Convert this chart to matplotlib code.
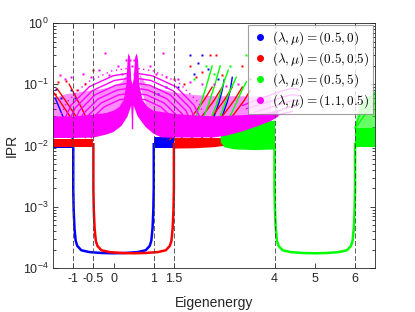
import matplotlib
matplotlib.use('Agg')
import matplotlib.pyplot as plt
from matplotlib.ticker import FixedLocator, LogLocator, NullFormatter

plt.rcParams['font.family'] = ['Liberation Sans', 'DejaVu Sans']
plt.rcParams['mathtext.fontset'] = 'cm'
plt.rcParams['axes.unicode_minus'] = False

# ---------------- data ----------------
labels = [r'$(\lambda,\mu)=(0.5,0)$', r'$(\lambda,\mu)=(0.5,0.5)$',
          r'$(\lambda,\mu)=(0.5,5)$', r'$(\lambda,\mu)=(1.1,0.5)$']
colors = ['#0000ff', '#ff0000', '#00ff00', '#ff00ff']

mobility_edges = [-1, -0.5, 1, 1.5, 4, 6]
xticks = [-1, -0.5, 0, 1, 1.5, 4, 5, 6]
xtick_labels = ['-1', '-0.5', '0', '1', '1.5', '4', '5', '6']
yticks = [1e-4, 1e-3, 1e-2, 1e-1, 1e0]
ytick_labels = [r'$\mathregular{10^{-4}}$', r'$\mathregular{10^{-3}}$',
                r'$\mathregular{10^{-2}}$', r'$\mathregular{10^{-1}}$',
                r'$\mathregular{10^{0}}$']

# extended states (U-shaped curves)
u_ipr = [0.0105, 0.002, 0.0009, 0.00045, 0.00028, 0.00023, 0.000195, 0.000182,
         0.000176, 0.000174, 0.000176, 0.000182, 0.000195, 0.00023, 0.00028,
         0.00045, 0.0009, 0.002, 0.0105]
blue_ext_E = [-1.0, -1.0, -0.99, -0.97, -0.94, -0.9, -0.8, -0.6, -0.3, 0.0, 0.3,
              0.6, 0.8, 0.9, 0.94, 0.97, 0.99, 1.0, 1.0]
red_ext_E = [-0.5, -0.5, -0.49, -0.47, -0.44, -0.4, -0.3, -0.1, 0.2, 0.5, 0.8,
             1.1, 1.3, 1.4, 1.44, 1.47, 1.49, 1.5, 1.5]
green_ext_E = [4.0, 4.0, 4.01, 4.03, 4.06, 4.1, 4.2, 4.4, 4.7, 5.0, 5.3, 5.6,
               5.8, 5.9, 5.94, 5.97, 5.99, 6.0, 6.0]

# localized bands (dense regions): E, lower IPR, upper IPR
blue_band_L_E = [-1.5, -1.0]
blue_band_L_lo = [0.0092, 0.0092]
blue_band_L_hi = [0.0125, 0.0125]
blue_band_R_E = [1.0, 1.5]
blue_band_R_lo = [0.0092, 0.0092]
blue_band_R_hi = [0.014, 0.014]

red_band_L_E = [-1.5, -0.5]
red_band_L_lo = [0.0094, 0.0094]
red_band_L_hi = [0.013, 0.013]
red_band_R_E = [1.5, 2.0, 2.5, 2.8, 2.9]
red_band_R_lo = [0.0091, 0.0092, 0.0096, 0.0102, 0.011]
red_band_R_hi = [0.0135, 0.0135, 0.0135, 0.0135, 0.0125]

green_band_M_E = [2.65, 2.75, 3.0, 3.5, 4.0]
green_band_M_lo = [0.0115, 0.0095, 0.0088, 0.0086, 0.0088]
green_band_M_hi = [0.016, 0.02, 0.022, 0.024, 0.026]
green_band_R_E = [6.0, 6.5]
green_band_R_lo = [0.0093, 0.0093]
green_band_R_hi = [0.019, 0.019]
green_arczone_R_E = [6.0, 6.1, 6.25, 6.5]
green_arczone_R_lo = [0.019, 0.019, 0.019, 0.019]
green_arczone_R_hi = [0.025, 0.045, 0.06, 0.075]

# magenta dense region outline (top then bottom)
mag_top_E = [-1.5, -1.0, -0.5, -0.2, 0.0, 0.15, 0.25, 0.32, 0.35, 0.37, 0.41,
             0.44, 0.47, 0.50, 0.54, 0.58, 0.61, 0.64, 0.72, 0.85, 1.0, 1.5,
             2.0, 2.5, 3.0, 3.5, 3.9, 4.1]
mag_top_ipr = [0.03, 0.03, 0.032, 0.034, 0.037, 0.043, 0.055, 0.1, 0.25, 0.32,
               0.28, 0.12, 0.1, 0.12, 0.28, 0.32, 0.25, 0.1, 0.055, 0.043,
               0.037, 0.033, 0.031, 0.03, 0.031, 0.032, 0.035, 0.038]
mag_bot_E = [-1.5, -1.0, -0.5, -0.2, 0.0, 0.2, 0.35, 0.44, 0.47, 0.50, 0.6,
             0.8, 1.0, 1.2, 1.5, 2.0, 2.5, 2.8, 3.2, 3.6, 3.9, 4.1]
mag_bot_ipr = [0.0133, 0.0133, 0.0135, 0.015, 0.0166, 0.021, 0.03, 0.045, 0.02,
               0.045, 0.03, 0.02, 0.0155, 0.0135, 0.0135, 0.0135, 0.0136, 0.0145,
               0.017, 0.021, 0.025, 0.03]
# magenta arc zone (striped look) envelopes
mag_arc_L_E = [-1.5, -1.2, -0.9, -0.6, -0.3, 0.0, 0.2, 0.32]
mag_arc_L_hi = [0.06, 0.07, 0.075, 0.08, 0.085, 0.095, 0.11, 0.15]
mag_arc_L_lo = [0.03, 0.03, 0.031, 0.032, 0.034, 0.037, 0.045, 0.1]
mag_arc_R_E = [0.64, 0.8, 1.0, 1.5, 2.0, 2.5, 3.0, 3.5, 3.9]
mag_arc_R_hi = [0.15, 0.1, 0.09, 0.075, 0.068, 0.065, 0.065, 0.065, 0.065]
mag_arc_R_lo = [0.1, 0.047, 0.037, 0.033, 0.031, 0.03, 0.031, 0.032, 0.035]

# concentric magenta arcs around the central peak (left and right halves)
mag_arc_ipr = [
    [0.0148, 0.0268, 0.0425, 0.056, 0.0596],
    [0.0155, 0.0299, 0.0494, 0.067, 0.072],
    [0.0163, 0.0332, 0.0577, 0.0806, 0.0869],
    [0.0171, 0.037, 0.0673, 0.0965, 0.105],
    [0.018, 0.0413, 0.0785, 0.1156, 0.1265],
    [0.0189, 0.0458, 0.0916, 0.138, 0.153],
]
mag_arc_left_E = [
    [-0.73, -0.55, -0.24, 0.15, 0.43],
    [-0.85, -0.65, -0.31, 0.12, 0.43],
    [-0.97, -0.75, -0.38, 0.09, 0.42],
    [-1.09, -0.85, -0.46, 0.05, 0.42],
    [-1.21, -0.95, -0.53, 0.02, 0.41],
    [-1.33, -1.05, -0.60, -0.01, 0.41],
]
mag_arc_right_E = [
    [1.675, 1.495, 1.185, 0.795, 0.515],
    [1.80, 1.60, 1.26, 0.83, 0.52],
    [1.92, 1.70, 1.33, 0.86, 0.53],
    [2.04, 1.80, 1.41, 0.90, 0.53],
    [2.16, 1.90, 1.48, 0.93, 0.54],
    [2.28, 2.00, 1.55, 0.96, 0.54],
]
# sparse outer arc (drawn dotted)
mag_outer_ipr = [0.0198, 0.0511, 0.107, 0.166, 0.184]
mag_outer_left_E = [-1.45, -1.16, -0.67, -0.04, 0.40]
mag_outer_right_E = [2.395, 2.105, 1.615, 0.985, 0.545]
# magenta arcs ending near E = 4.6
mag_end_arcs = [
    ([3.2, 3.7, 4.1, 4.4, 4.55, 4.62], [0.045, 0.06, 0.075, 0.085, 0.085, 0.08]),
    ([3.3, 3.8, 4.2, 4.45, 4.6], [0.04, 0.05, 0.062, 0.068, 0.065]),
    ([3.5, 3.9, 4.25, 4.5, 4.6], [0.035, 0.042, 0.05, 0.055, 0.053]),
    ([3.7, 4.05, 4.35, 4.55], [0.032, 0.036, 0.042, 0.044]),
    ([3.9, 4.2, 4.45], [0.03, 0.033, 0.036]),
]
red_arcs = [
    ([-0.55, -0.8, -1.0, -1.2, -1.4], [0.0135, 0.022, 0.035, 0.055, 0.085]),
    ([-0.7, -0.95, -1.15, -1.35, -1.5], [0.0135, 0.022, 0.035, 0.055, 0.075]),
    ([-0.5, -0.65, -0.8, -0.95, -1.1], [0.016, 0.026, 0.042, 0.065, 0.1]),
    ([1.40, 1.70, 2.00, 2.25, 2.45], [0.0125, 0.02, 0.033, 0.055, 0.09]),
    ([1.65, 1.95, 2.25, 2.50, 2.70], [0.0125, 0.02, 0.033, 0.055, 0.09]),
    ([1.90, 2.20, 2.50, 2.75, 2.95], [0.0125, 0.02, 0.033, 0.055, 0.09]),
    ([2.15, 2.45, 2.75, 3.00, 3.20], [0.0125, 0.02, 0.033, 0.055, 0.09]),
    ([2.40, 2.70, 3.00, 3.25, 3.40], [0.013, 0.02, 0.033, 0.055, 0.08]),
]
green_arcs = [
    ([1.85, 2.0, 2.15, 2.3, 2.45], [0.016, 0.025, 0.045, 0.09, 0.2]),
    ([2.05, 2.2, 2.35, 2.5, 2.65], [0.016, 0.025, 0.045, 0.09, 0.2]),
    ([2.25, 2.4, 2.55, 2.7, 2.85], [0.016, 0.025, 0.045, 0.09, 0.17]),
    ([2.45, 2.6, 2.75, 2.9, 3.05], [0.016, 0.025, 0.045, 0.08, 0.13]),
    ([2.7, 2.85, 3.0, 3.15, 3.3], [0.018, 0.026, 0.042, 0.07, 0.11]),
    ([6.0, 6.1, 6.2, 6.35, 6.5], [0.02, 0.03, 0.042, 0.058, 0.075]),
    ([6.0, 6.15, 6.3, 6.5], [0.019, 0.026, 0.036, 0.05]),
]
blue_arcs = [
    ([-1.0, -1.15, -1.3, -1.45], [0.012, 0.02, 0.035, 0.06]),
    ([2.55, 2.7, 2.82, 2.9, 2.95], [0.02, 0.03, 0.05, 0.08, 0.13]),
    ([2.35, 2.5, 2.62, 2.7, 2.75], [0.02, 0.03, 0.05, 0.08, 0.12]),
]

mag_dots_E = [-0.22, -1.32, -1.2, -1.05, -0.75, -0.55, -0.35, -0.1, 0.1, 0.2,
              0.3, 1.22, 0.9, 1.05, 1.3, 1.6, 1.9, 2.2, 2.5, 2.8, 3.1, 0.45,
              0.5, 0.42, 0.52]
mag_dots_ipr = [0.32, 0.14, 0.12, 0.13, 0.15, 0.13, 0.17, 0.14, 0.2, 0.15,
                0.25, 0.32, 0.2, 0.15, 0.13, 0.12, 0.11, 0.1, 0.1, 0.095, 0.1,
                0.2, 0.15, 0.25, 0.25]
red_dots_E = [-1.39, -1.17, -0.9, -0.52, -1.45, -0.7, 1.5, 1.75, 2.05, 2.2,
              2.4, 2.55, 2.7, 3.2, 3.4, 1.9]
red_dots_ipr = [0.11, 0.115, 0.08, 0.17, 0.07, 0.1, 0.12, 0.1, 0.13, 0.16,
                0.3, 0.3, 0.14, 0.2, 0.12, 0.2]
blue_dots_E = [-1.42, -1.05, -1.3, -0.95, 1.9, 2.19, 2.1, 2.35, 2.6, 1.3, 1.6,
               2.0, 1.1]
blue_dots_ipr = [0.085, 0.08, 0.06, 0.06, 0.3, 0.3, 0.22, 0.18, 0.12, 0.09,
                 0.09, 0.15, 0.07]
green_dots_E = [2.3, 2.5, 2.9, 3.3, 2.0]
green_dots_ipr = [0.2, 0.15, 0.2, 0.3, 0.12]

# ---------------- drawing ----------------
fig = plt.figure(figsize=(4.15, 3.12), dpi=100)
ax = fig.add_axes([0.128, 0.141, 0.776, 0.785])
ax.set_yscale('log')

cb, cr, cg, cm = colors
ARC_LW = 1.0

# backdrop of the striped magenta arc zone (lowest)
ax.fill_between(mag_arc_L_E, mag_arc_L_lo, mag_arc_L_hi, color=cm, alpha=0.45, lw=0, zorder=1)
ax.fill_between(mag_arc_R_E, mag_arc_R_lo, mag_arc_R_hi, color=cm, alpha=0.45, lw=0, zorder=1)

# blue
for E, lo, hi in [(blue_band_L_E, blue_band_L_lo, blue_band_L_hi),
                  (blue_band_R_E, blue_band_R_lo, blue_band_R_hi)]:
    ax.fill_between(E, lo, hi, color=cb, lw=0, zorder=2)
for E, v in blue_arcs:
    ax.plot(E, v, color=cb, lw=ARC_LW, zorder=2)
ax.plot(blue_ext_E, u_ipr, color=cb, lw=1.8, zorder=2)
ax.plot(blue_dots_E, blue_dots_ipr, ls='none', marker='s', ms=1.5, color=cb, mec='none', zorder=2)

# red
for E, lo, hi in [(red_band_L_E, red_band_L_lo, red_band_L_hi),
                  (red_band_R_E, red_band_R_lo, red_band_R_hi)]:
    ax.fill_between(E, lo, hi, color=cr, lw=0, zorder=3)
for E, v in red_arcs:
    ax.plot(E, v, color=cr, lw=ARC_LW, zorder=3)
ax.plot(red_ext_E, u_ipr, color=cr, lw=1.8, zorder=3)
ax.plot(red_dots_E, red_dots_ipr, ls='none', marker='s', ms=1.5, color=cr, mec='none', zorder=3)

# green
for E, lo, hi in [(green_band_M_E, green_band_M_lo, green_band_M_hi),
                  (green_band_R_E, green_band_R_lo, green_band_R_hi)]:
    ax.fill_between(E, lo, hi, color=cg, lw=0, zorder=3.5)
ax.fill_between(green_arczone_R_E, green_arczone_R_lo, green_arczone_R_hi,
                color=cg, alpha=0.6, lw=0, zorder=3.5)
for E, v in green_arcs:
    ax.plot(E, v, color=cg, lw=ARC_LW, zorder=3.5)
ax.plot(green_ext_E, u_ipr, color=cg, lw=1.8, zorder=3.5)
ax.plot(green_dots_E, green_dots_ipr, ls='none', marker='s', ms=1.5, color=cg, mec='none', zorder=3.5)

# magenta (on top)
ax.fill(mag_top_E + mag_bot_E[::-1], mag_top_ipr + mag_bot_ipr[::-1], color=cm, lw=0, zorder=4)
for Ez, v in zip(mag_arc_left_E, mag_arc_ipr):
    ax.plot(Ez, v, color=cm, lw=ARC_LW, zorder=4)
for Ez, v in zip(mag_arc_right_E, mag_arc_ipr):
    ax.plot(Ez, v, color=cm, lw=ARC_LW, zorder=4)
ax.plot(mag_outer_left_E, mag_outer_ipr, color=cm, lw=1.0, ls=(0, (1, 2.5)), zorder=4)
ax.plot(mag_outer_right_E, mag_outer_ipr, color=cm, lw=1.0, ls=(0, (1, 2.5)), zorder=4)
for E, v in mag_end_arcs:
    ax.plot(E, v, color=cm, lw=ARC_LW, zorder=4)
ax.plot([0.47, 0.47], [0.019, 0.045], color=cm, lw=1.0, zorder=4)
ax.plot(mag_dots_E, mag_dots_ipr, ls='none', marker='s', ms=1.5, color=cm, mec='none', zorder=4)

for xe in mobility_edges:
    ax.axvline(xe, color='#444444', lw=0.6, ls=(0, (6, 3)), zorder=5)

# legend handles
for lab, c in zip(labels, colors):
    ax.plot([], [], ls='none', marker='.', ms=8, color=c, label=lab)
leg = ax.legend(loc='upper right', fontsize=9.5, frameon=True, fancybox=False,
                borderaxespad=0.15, handletextpad=0.3, handlelength=1.2,
                borderpad=0.3, labelspacing=0.25)
leg.get_frame().set_edgecolor('#888888')
leg.get_frame().set_linewidth(0.8)
leg.set_zorder(10)

ax.set_xlim(-1.5, 6.5)
ax.set_ylim(1e-4, 1e0)
ax.xaxis.set_major_locator(FixedLocator(xticks))
ax.set_xticklabels(xtick_labels)
ax.yaxis.set_major_locator(FixedLocator(yticks))
ax.set_yticklabels(ytick_labels)
ax.yaxis.set_minor_locator(LogLocator(base=10, subs=range(2, 10)))
ax.yaxis.set_minor_formatter(NullFormatter())
ax.tick_params(which='both', direction='in', top=True, right=True, labelsize=9,
               colors='#262626', width=0.6)
ax.tick_params(which='major', length=3.5)
ax.tick_params(which='minor', length=2)
for s in ax.spines.values():
    s.set_color('#262626')
    s.set_linewidth(0.6)
    s.set_zorder(6)
ax.set_xlabel('Eigenenergy', fontsize=10, color='#262626', labelpad=8)
ax.set_ylabel('IPR', fontsize=10, color='#262626', labelpad=3)

fig.savefig('out.png', dpi=100, facecolor='white')
